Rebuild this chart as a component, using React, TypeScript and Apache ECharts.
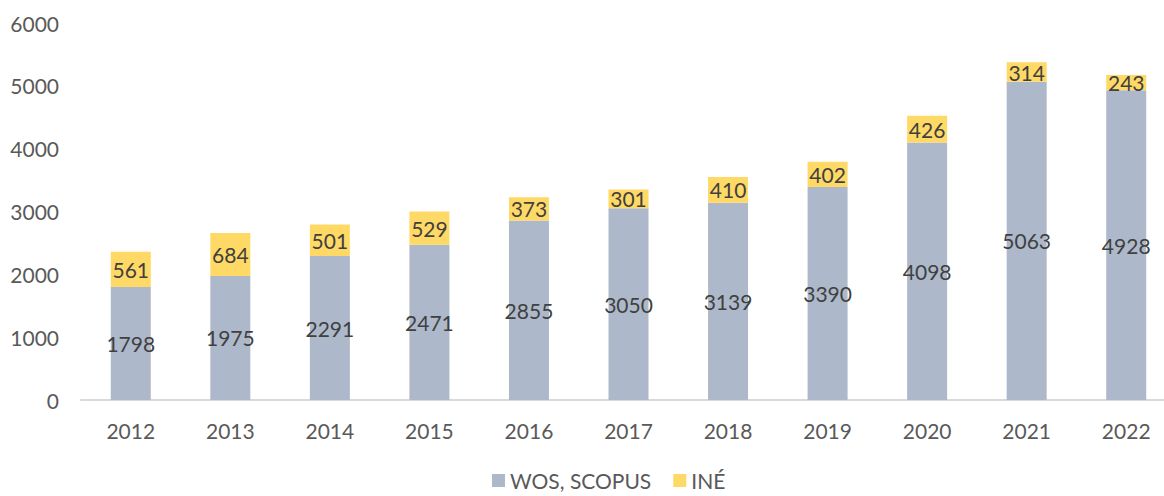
import React, { useEffect, useRef } from "react";
import * as echarts from "echarts";

const years = ["2012", "2013", "2014", "2015", "2016", "2017", "2018", "2019", "2020", "2021", "2022"];
const wosScopus = [1798, 1975, 2291, 2471, 2855, 3050, 3139, 3390, 4098, 5063, 4928];
const ine = [561, 684, 501, 529, 373, 301, 410, 402, 426, 314, 243];
const yTicks = [0, 1000, 2000, 3000, 4000, 5000, 6000];

const FONT = "Lato, 'Open Sans', sans-serif";
const FS = 21;

export default function App() {
  const ref = useRef<HTMLDivElement>(null);
  useEffect(() => {
    if (!ref.current) return;
    const chart = echarts.init(ref.current, null, { renderer: "svg" });
    chart.setOption({
      animation: false,
      textStyle: { fontFamily: FONT },
      grid: { left: 81, right: -12, top: 23, bottom: 96, outerBoundsMode: "none" },
      legend: {
        bottom: 0,
        left: 487,
        itemWidth: 13,
        itemHeight: 13,
        itemGap: 22,
        icon: "rect",
        textStyle: { fontFamily: FONT, fontSize: FS, color: "#595959" },
        data: ["WOS, SCOPUS", "INÉ"],
      },
      xAxis: {
        type: "category",
        data: years,
        axisLine: { lineStyle: { color: "#D9D9D9", width: 2 } },
        axisTick: { show: false },
        axisLabel: { fontFamily: FONT, fontSize: FS, color: "#595959", margin: 20 },
      },
      yAxis: {
        type: "value",
        min: yTicks[0],
        max: yTicks[yTicks.length - 1],
        interval: 1000,
        axisLine: { show: false },
        axisTick: { show: false },
        splitLine: { show: false },
        axisLabel: {
          fontFamily: FONT,
          fontSize: FS,
          color: "#595959",
          margin: 22,
          formatter: (v: number) => String(v),
        },
      },
      series: [
        {
          name: "WOS, SCOPUS",
          type: "bar",
          stack: "total",
          data: wosScopus,
          barWidth: 40,
          itemStyle: { color: "#ADB9CA" },
          label: { show: true, position: "inside", fontFamily: FONT, fontSize: FS, color: "#404040" },
        },
        {
          name: "INÉ",
          type: "bar",
          stack: "total",
          data: ine,
          barWidth: 40,
          itemStyle: { color: "#FFD966" },
          label: { show: true, position: "inside", fontFamily: FONT, fontSize: FS, color: "#404040" },
        },
      ],
    });
    return () => chart.dispose();
  }, []);
  return <div ref={ref} style={{ width: 1164, height: 496, position: "absolute", left: 0, top: 0 }} />;
}
